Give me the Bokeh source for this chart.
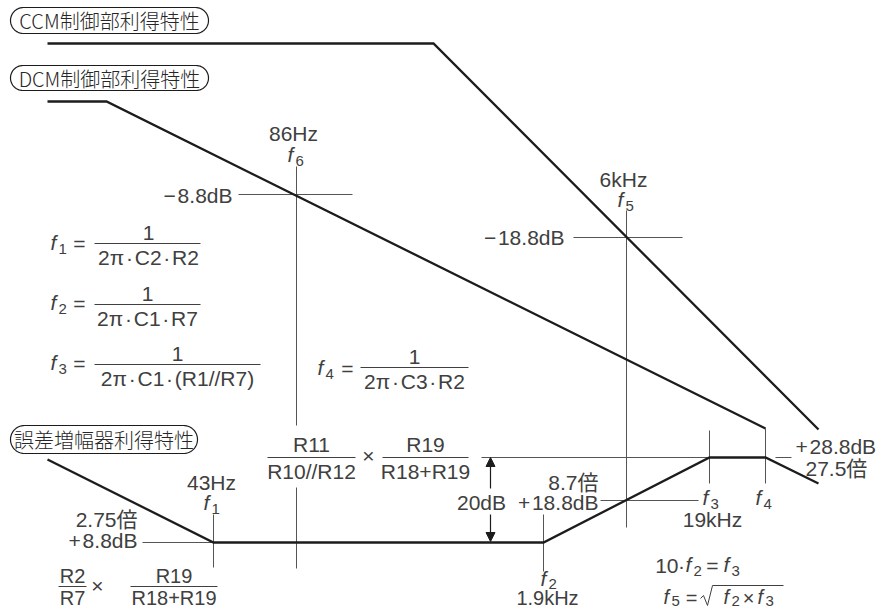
import numpy as np
from bokeh.plotting import figure
from bokeh.models import Range1d, Label, Arrow, NormalHead, ColumnDataSource
from bokeh.embed import file_html
from bokeh.resources import INLINE

# ---- schematic gain curves (diagram units: x to the right, y downward) ----
ccm_x = [47, 433, 818]
ccm_y = [43, 43, 429]
dcm_x = [47, 106, 765]
dcm_y = [101, 101, 428]
err_x = [47, 213, 543, 709, 765, 818]
err_y = [459, 542, 542, 457, 457, 483]

# corner frequencies and their positions on the schematic frequency axis
corner_names = ["1", "6", "2", "5", "3", "4"]
corner_freqs = ["43Hz", "86Hz", "1.9kHz", "6kHz", "19kHz", ""]
corner_x = [213, 296, 543, 626, 709, 765]

# gain readings
gain_labels = ["−\u200a8.8dB", "−\u200a18.8dB", "+\u200a8.8dB", "+\u200a18.8dB", "+\u200a28.8dB", "20dB"]
ratio_labels = ["2.75倍", "8.7倍", "27.5倍"]
curve_names = ["CCM制御部利得特性", "DCM制御部利得特性", "誤差増幅器利得特性"]

# thin guide lines: x0, y0, x1, y1
guide_x0 = [213, 142, 296, 296, 238, 626, 573, 543, 709, 765, 481, 775, 600]
guide_y0 = [514, 542, 166, 487, 194, 210, 237, 514, 430, 428, 457, 457, 500]
guide_x1 = [213, 213, 296, 296, 352, 626, 682, 543, 709, 765, 709, 791, 698]
guide_y1 = [567, 542, 425, 568, 194, 527, 237, 571, 483, 483, 457, 457, 500]

FONT = "Liberation Sans, Noto Sans CJK JP, sans-serif"
CJK_FONT = "Noto Sans CJK JP Light, Noto Sans CJK JP, sans-serif"
TEXT = "#404040"
GUIDE = "#555555"
CURVE = "#1c1c1c"

p = figure(width=880, height=609, x_range=Range1d(0, 880), y_range=Range1d(609, 0),
           output_backend="svg", toolbar_location=None, min_border=0,
           x_axis_type=None, y_axis_type=None)
p.grid.visible = False
p.outline_line_color = None
p.background_fill_color = "white"
p.border_fill_color = "white"

# guide lines
p.segment(x0="x0", y0="y0", x1="x1", y1="y1", line_color=GUIDE, line_width=1,
          source=ColumnDataSource(dict(x0=guide_x0, y0=guide_y0, x1=guide_x1, y1=guide_y1)))

# gain curves
for xs, ys in [(ccm_x, ccm_y), (dcm_x, dcm_y), (err_x, err_y)]:
    p.line(xs, ys, line_color=CURVE, line_width=2.3, line_join="miter")


def label(x, y, text, size=21, align="center", italic=False, color=TEXT, font=FONT):
    p.add_layout(Label(x=x, y=y, text=text, text_font=font, text_font_size=f"{size}px",
                       text_align=align, text_baseline="middle", text_color=color,
                       text_font_style="italic" if italic else "normal"))


def fsym(x, y, n, size=21, drop=5):
    label(x, y - 1, "f", size=size, align="left", italic=True)
    label(x + 8, y + drop, n, size=int(size * 0.76), align="left")


def frac(x0, x1, ybar, num, den, cx=None, up=11, down=14, size=21):
    cx = (x0 + x1) / 2 if cx is None else cx
    p.segment(x0=[x0], y0=[ybar], x1=[x1], y1=[ybar], line_color=TEXT, line_width=1)
    label(cx, ybar - up, num, size=size)
    label(cx, ybar + down, den, size=size)


def pill(x0, x1, y0, y1, text):
    r = (y1 - y0) / 2
    cy = (y0 + y1) / 2
    a = np.linspace(-np.pi / 2, np.pi / 2, 30)
    xs = list(x1 - r + r * np.cos(a)) + list(x0 + r - r * np.cos(a[::-1]))
    ys = list(cy + r * np.sin(a)) + list(cy + r * np.sin(a[::-1]))
    xs.append(xs[0]); ys.append(ys[0])
    p.line(xs, ys, line_color=CURVE, line_width=1.2)
    label((x0 + x1) / 2, cy, text, size=20, color="#262626", font=CJK_FONT)


# curve name tags
pill(10, 208, 7, 33, curve_names[0])
pill(10, 208, 65, 90, curve_names[1])
pill(10, 197, 425, 453, curve_names[2])

# corner frequency markers
label(211, 482, corner_freqs[0]); fsym(203, 503, corner_names[0])
label(293, 133, corner_freqs[1]); fsym(287, 155, corner_names[1])
fsym(540, 579, corner_names[2], drop=4); label(547, 597, corner_freqs[2], size=20)
label(623, 179, corner_freqs[3]); fsym(617, 200, corner_names[3])
fsym(702, 498, corner_names[4]); label(712, 519, corner_freqs[4])
fsym(755, 498, corner_names[5])

# gain readings
label(232, 195, gain_labels[0], align="right")
label(564, 237, gain_labels[1], align="right")
label(137, 519, ratio_labels[0], align="right")
label(137, 540, gain_labels[2], align="right")
label(598, 482, ratio_labels[1], align="right")
label(598, 502, gain_labels[3], align="right")
label(795, 446, gain_labels[4], align="left")
label(805, 468, ratio_labels[2], align="left")
label(481, 502, gain_labels[5])

# 20 dB span arrow
head = dict(size=9, fill_color=CURVE, line_color=CURVE)
p.add_layout(Arrow(x_start=490, y_start=488, x_end=490, y_end=457, line_color=CURVE,
                   line_width=1.2, end=NormalHead(**head)))
p.add_layout(Arrow(x_start=490, y_start=514, x_end=490, y_end=541, line_color=CURVE,
                   line_width=1.2, end=NormalHead(**head)))

# corner frequency formulas
dot = "\u200a·\u200a"
fsym(50, 243, "1"); label(79, 243, "=")
frac(94, 200, 243, "1", "2π" + dot + "C2" + dot + "R2", cx=148)
fsym(50, 303, "2"); label(79, 303, "=")
frac(94, 200, 304, "1", "2π" + dot + "C1" + dot + "R7", cx=147)
fsym(50, 363, "3"); label(79, 363, "=")
frac(94, 260, 364, "1", "2π" + dot + "C1" + dot + "(R1//R7)", cx=177)
fsym(317, 368, "4"); label(347, 368, "=")
frac(360, 468, 367, "1", "2π" + dot + "C3" + dot + "R2", cx=414)

# gain expressions
frac(267, 355, 457, "R11", "R10//R12", cx=311, up=13)
label(368, 455, "×")
frac(382, 468, 457, "R19", "R18+R19", cx=425, up=13)
frac(58, 86, 586, "R2", "R7", up=11, down=11, size=20)
label(97, 585, "×")
frac(130, 217, 586, "R19", "R18+R19", up=11, down=11, size=20)

# relations between corner frequencies
label(678, 565, "10", align="right"); label(681, 565, "·")
fsym(685, 565, "2"); label(712, 565, "=")
fsym(723, 565, "3")
fsym(663, 597, "5", size=20, drop=3); label(691, 597, "=", size=20)
p.line([700, 703, 707, 712, 783], [598, 595, 605, 585, 585], line_color=TEXT, line_width=1)
fsym(723, 597, "2", size=20, drop=3); label(748, 597, "×", size=20)
fsym(757, 597, "3", size=20, drop=3)

open("out.html", "w").write(file_html(p, INLINE))
